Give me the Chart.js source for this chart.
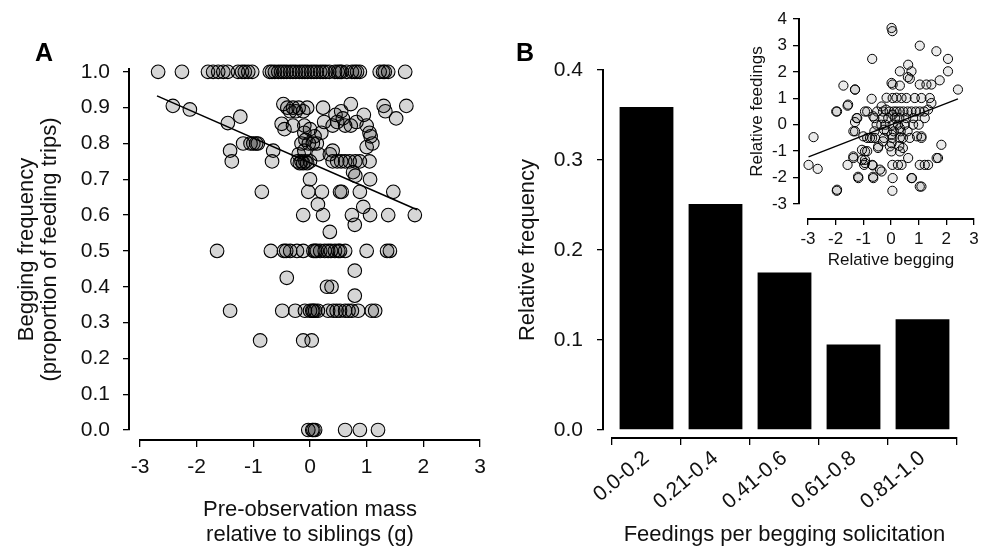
<!DOCTYPE html>
<html><head><meta charset="utf-8">
<script src="https://cdn.jsdelivr.net/npm/chart.js@4.4.1/dist/chart.umd.min.js"></script>
<style>
html,body{margin:0;padding:0;background:#fff}
body{width:994px;height:549px;position:relative;overflow:hidden}
canvas{position:absolute;top:0}
#cA{left:0}
#cB{left:500px}
#cI{left:740px}
</style></head>
<body>
<canvas id="cA" width="500" height="549"></canvas>
<canvas id="cB" width="494" height="549"></canvas>
<canvas id="cI" width="254" height="285"></canvas>
<script>
// ---------------- DATA ----------------
// Panel A: [pre-observation mass relative to siblings (g), begging frequency]
const panelAPoints = [
 [-2.68,1.0],[-2.26,1.0],[-1.80,1.0],[-1.71,1.0],[-1.62,1.0],[-1.53,1.0],[-1.45,1.0],[-1.27,1.0],[-1.20,1.0],[-1.15,1.0],
 [-1.09,1.0],[-1.02,1.0],[-0.71,1.0],[-0.67,1.0],[-0.62,1.0],[-0.56,1.0],[-0.51,1.0],[-0.46,1.0],[-0.41,1.0],[-0.35,1.0],
 [-0.30,1.0],[-0.25,1.0],[-0.19,1.0],[-0.14,1.0],[-0.09,1.0],[-0.04,1.0],[0.02,1.0],[0.07,1.0],[0.12,1.0],[0.18,1.0],
 [0.23,1.0],[0.28,1.0],[0.34,1.0],[0.44,1.0],[0.49,1.0],[0.53,1.0],[0.56,1.0],[0.65,1.0],[0.74,1.0],[0.79,1.0],
 [0.83,1.0],[0.88,1.0],[1.23,1.0],[1.29,1.0],[1.32,1.0],[1.38,1.0],[1.68,1.0],
 [-2.42,0.905],[-2.12,0.895],[-0.47,0.91],[-0.40,0.90],[-0.35,0.89],[-0.30,0.90],[-0.25,0.89],[-0.20,0.90],[-0.12,0.89],[-0.05,0.90],
 [0.23,0.90],[0.45,0.88],[0.55,0.89],[0.58,0.87],[0.72,0.91],[0.95,0.88],[1.30,0.905],[1.33,0.89],[1.70,0.905],[1.52,0.87],
 [-1.45,0.857],[-1.23,0.875],[-0.50,0.855],[-0.45,0.84],[-0.30,0.85],[-0.10,0.85],[0.00,0.84],[0.25,0.86],[0.40,0.85],[0.48,0.86],
 [0.62,0.85],[0.72,0.85],[0.82,0.86],[1.00,0.85],[1.05,0.83],
 [-1.18,0.80],[-1.05,0.80],[-1.00,0.80],[-0.95,0.80],[-0.92,0.80],[-0.15,0.80],[-0.08,0.81],[-0.02,0.80],[0.05,0.80],[0.12,0.80],
 [0.08,0.82],[-0.10,0.83],[0.20,0.83],[1.00,0.79],[1.10,0.80],[1.07,0.82],
 [-1.41,0.78],[-0.65,0.78],[-0.20,0.77],[-0.10,0.78],[0.35,0.77],[0.40,0.78],[0.15,0.77],
 [-1.38,0.75],[-0.67,0.75],[-0.22,0.75],[-0.18,0.745],[-0.15,0.75],[-0.12,0.745],[-0.08,0.75],[-0.05,0.745],[0.00,0.75],[0.40,0.75],
 [0.48,0.75],[0.55,0.75],[0.62,0.75],[0.70,0.75],[0.80,0.75],[0.88,0.75],[1.05,0.75],
 [0.00,0.70],[0.76,0.72],[0.80,0.71],[1.06,0.70],
 [-0.85,0.665],[-0.03,0.665],[0.21,0.665],[0.53,0.665],[0.56,0.665],[0.88,0.665],[1.47,0.665],
 [0.14,0.63],[0.94,0.623],
 [-0.12,0.60],[0.23,0.60],[0.74,0.60],[1.06,0.60],[1.38,0.60],[1.85,0.60],
 [0.35,0.553],[0.79,0.573],
 [-1.64,0.5],[-0.69,0.5],[-0.46,0.5],[-0.42,0.5],[-0.35,0.5],[-0.23,0.5],[-0.12,0.5],[0.06,0.5],[0.09,0.5],[0.12,0.5],
 [0.18,0.5],[0.26,0.5],[0.32,0.5],[0.37,0.5],[0.44,0.5],[0.50,0.5],[0.53,0.5],[0.62,0.5],[1.00,0.5],[1.36,0.5],[1.41,0.5],
 [-0.41,0.425],[0.79,0.445],[0.30,0.40],[0.38,0.40],[0.79,0.375],
 [-1.41,0.333],[-0.49,0.333],[-0.26,0.333],[-0.09,0.333],[0.00,0.333],[0.04,0.333],[0.06,0.333],[0.09,0.333],[0.14,0.333],[0.32,0.333],
 [0.41,0.333],[0.47,0.333],[0.53,0.333],[0.62,0.333],[0.68,0.333],[0.74,0.333],[0.85,0.333],[1.09,0.333],[1.15,0.333],
 [-0.88,0.25],[-0.12,0.25],[0.03,0.25],
 [-0.03,0.0],[0.04,0.0],[0.06,0.0],[0.09,0.0],[0.62,0.0],[0.88,0.0],[1.20,0.0]
];
const panelALine = [[-2.70,0.933],[1.89,0.615]];
const panelAXTicks = [-3,-2,-1,0,1,2,3];

// Panel B: histogram
const feedCategories = ['0.0-0.2','0.21-0.4','0.41-0.6','0.61-0.8','0.81-1.0'];
const relFrequency = [0.359,0.251,0.175,0.095,0.123];

// Inset: [relative begging, relative feedings]
const insetPoints = [
 [-2.80,-0.47],[-2.98,-1.52],[-2.65,-1.67],[-1.96,-2.50],[-1.98,0.50],[-1.72,1.48],[-1.57,0.72],[-1.30,1.33],[-1.24,0.25],[-1.36,-0.25],
 [-1.36,-1.20],[-1.57,-1.52],[-1.18,-2.02],[-0.68,2.49],[-0.70,0.98],[-0.94,0.50],[-1.00,-0.44],[-0.94,-1.01],[-0.94,-1.33],[-0.97,-1.52],
 [-0.66,-1.54],[-0.64,-2.02],[-0.34,-1.77],[-0.58,-0.50],[-0.76,-0.50],[-0.46,-0.82],[-0.52,0.00],[-0.64,0.32],[-0.25,-0.19],[-0.18,0.57],
 [-0.34,0.69],[0.02,3.66],[0.05,3.54],[0.06,1.52],[0.02,1.58],[0.06,1.01],[0.06,0.38],[0.06,0.00],[0.02,-0.38],[0.05,-0.50],
 [0.02,-1.01],[0.05,-1.52],[0.06,-2.02],[0.05,-2.50],[0.32,2.02],[0.32,1.48],[0.38,1.01],[0.32,0.50],[0.32,-0.13],[0.32,-1.01],
 [0.38,-1.52],[0.62,2.27],[0.74,2.02],[0.68,1.74],[0.56,1.01],[0.86,1.01],[0.74,0.50],[0.80,0.00],[0.68,-0.50],[0.62,-1.26],
 [0.74,-2.02],[1.04,2.99],[1.04,1.52],[1.28,1.52],[1.46,1.52],[1.10,1.01],[1.40,1.01],[1.04,0.50],[1.34,0.57],[1.22,0.25],
 [1.10,-0.44],[1.04,-1.52],[1.34,-1.52],[1.04,-2.34],[1.70,-1.26],[1.82,-0.76],[1.64,2.78],[2.06,2.49],[2.06,2.02],[1.76,1.68],
 [2.42,1.33],[1.46,0.82],[0.61,1.80],[-1.30,1.33],[-0.16,1.02],[0.20,1.02],[-1.55,0.76],[-1.95,0.50],[-0.86,0.50],[-0.50,0.50],
 [-0.29,0.50],[-1.22,0.25],[-1.30,-0.25],[-1.30,0.10],[-0.86,-0.50],[-0.68,-0.50],[0.43,-0.50],[0.94,-0.44],[-1.05,-0.95],[-0.86,-1.00],
 [-0.47,-0.88],[-0.29,-0.63],[-0.04,-0.82],[0.43,-0.88],[-1.36,-1.26],[-1.05,-1.33],[-0.94,-1.45],[-0.68,-1.52],[0.25,-1.52],[1.22,-1.52],
 [1.65,-1.26],[-1.19,-1.97],[-0.65,-1.97],[-0.40,-1.70],[0.76,-2.02],[1.10,-2.34],[-1.95,-2.46],
 [-0.05,0.50],[0.10,0.50],[0.20,0.50],[0.45,0.50],[0.60,0.50],[0.90,0.50],[1.20,0.50],
 [-0.60,0.25],[-0.30,0.25],[-0.10,0.25],[0.15,0.25],[0.30,0.25],[0.55,0.25],[0.80,0.25],
 [-0.35,0.00],[-0.20,0.00],[0.25,0.00],[0.50,0.00],[1.00,0.00],
 [-0.60,-0.25],[-0.15,-0.25],[0.10,-0.25],[0.35,-0.25],[0.60,-0.25],
 [-0.25,-0.50],[0.32,-0.50],[1.10,-0.50],[0.30,-0.80],[0.02,-0.70]
];
const insetLine = [[-2.98,-1.22],[2.42,0.98]];

// ---------------- HELPERS ----------------
Chart.defaults.font.family = "'Liberation Sans', Arial, Helvetica, sans-serif";
Chart.defaults.color = '#111';
Chart.defaults.animation = false;

// moves the axis lines away from the plot corner (detached axes style)
const detachAxes = {
  id: 'detachAxes',
  afterLayout(chart, args, opts) {
    const sx = chart.scales.x, sy = chart.scales.y;
    if (opts.dx) sy.right -= opts.dx;
    if (opts.dy) sx.top += opts.dy;
  }
};
const panelLetter = {
  id: 'panelLetter',
  afterDraw(chart, args, opts) {
    if (!opts.text) return;
    const ctx = chart.ctx;
    ctx.save();
    ctx.font = 'bold 25px ' + Chart.defaults.font.family;
    ctx.fillStyle = '#000';
    ctx.textAlign = 'center';
    ctx.textBaseline = 'middle';
    ctx.fillText(opts.text, opts.x, opts.y);
    ctx.restore();
  }
};
Chart.register(detachAxes, panelLetter);

function axisStyle(tickLen) {
  return {
    grid: {display: true, drawOnChartArea: false, drawTicks: true, tickLength: tickLen, color: '#000', lineWidth: 1.3},
    border: {display: true, color: '#000', width: 2}
  };
}
const toXY = arr => arr.map(p => ({x: p[0], y: p[1]}));

// ---------------- PANEL A ----------------
new Chart(document.getElementById('cA'), {
  type: 'scatter',
  data: {datasets: [
    {type: 'line', data: toXY(panelALine), borderColor: '#000', borderWidth: 1.6, pointRadius: 0, fill: false, order: 0, clip: false},
    {data: toXY(panelAPoints), backgroundColor: 'rgba(0,0,0,0.16)', borderColor: '#000', borderWidth: 1.1, pointRadius: 6.8, order: 1, clip: false}
  ]},
  options: {
    responsive: false,
    layout: {padding: {top: 69, right: 20, left: 0, bottom: 0}},
    plugins: {legend: {display: false}, tooltip: {enabled: false},
      detachAxes: {dx: 11, dy: 10}, panelLetter: {text: 'A', x: 44, y: 54}},
    scales: {
      x: {type: 'linear', min: -3, max: 3, ...axisStyle(7),
        afterFit: s => { s.height = 119; },
        afterBuildTicks: s => { s.ticks = panelAXTicks.map(v => ({value: v})); },
        ticks: {font: {size: 21}, padding: 8, color: '#111', callback: v => String(v)},
        title: {display: true, text: ['Pre-observation mass', 'relative to siblings (g)'], font: {size: 22, lineHeight: 1.136}, color: '#111', padding: {top: 0, bottom: 1.5}}
      },
      y: {type: 'linear', min: 0, max: 1.008, ...axisStyle(6),
        afterFit: s => { s.width = 140; },
        ticks: {stepSize: 0.1, includeBounds: false, font: {size: 21}, padding: 13, color: '#111', callback: v => Number(v).toFixed(1)},
        title: {display: true, text: ['Begging frequency', '(proportion of feeding trips)'], font: {size: 22, lineHeight: 1.06}, color: '#111', padding: {top: 15, bottom: 0}}
      }
    }
  }
});

// ---------------- PANEL B ----------------
new Chart(document.getElementById('cB'), {
  type: 'bar',
  data: {labels: feedCategories, datasets: [
    {data: relFrequency, backgroundColor: '#000', borderWidth: 0, barPercentage: 0.78, categoryPercentage: 1.0}
  ]},
  options: {
    responsive: false,
    layout: {padding: {top: 70, right: 37, left: 0, bottom: 0}},
    plugins: {legend: {display: false}, tooltip: {enabled: false},
      detachAxes: {dx: 9, dy: 8}, panelLetter: {text: 'B', x: 25, y: 54}},
    scales: {
      x: {type: 'category', offset: true, ...axisStyle(7),
        grid: {display: true, offset: true, drawOnChartArea: false, drawTicks: true, tickLength: 7, color: '#000', lineWidth: 1.3},
        afterFit: s => { s.height = 119; },
        ticks: {font: {size: 21}, padding: 1, color: '#111', minRotation: 40, maxRotation: 40, autoSkip: false},
        title: {display: true, text: 'Feedings per begging solicitation', font: {size: 22, lineHeight: 1.2}, color: '#111', padding: {top: 0, bottom: 1}}
      },
      y: {type: 'linear', min: 0, max: 0.4, ...axisStyle(6),
        afterFit: s => { s.width = 112; },
        ticks: {stepSize: 0.1, font: {size: 21}, padding: 14, color: '#111', callback: v => Number(v).toFixed(1)},
        title: {display: true, text: 'Relative frequency', font: {size: 22, lineHeight: 1.2}, color: '#111', padding: {top: 15, bottom: 0}}
      }
    }
  }
});

// ---------------- INSET ----------------
new Chart(document.getElementById('cI'), {
  type: 'scatter',
  data: {datasets: [
    {type: 'line', data: toXY(insetLine), borderColor: '#000', borderWidth: 1.3, pointRadius: 0, fill: false, order: 0, clip: false},
    {data: toXY(insetPoints), backgroundColor: 'rgba(0,0,0,0.08)', borderColor: '#000', borderWidth: 1, pointRadius: 4.6, order: 1, clip: false}
  ]},
  options: {
    responsive: false,
    layout: {padding: {top: 19, right: 20, left: 0, bottom: 0}},
    plugins: {legend: {display: false}, tooltip: {enabled: false}, detachAxes: {dx: 9, dy: 15}},
    scales: {
      x: {type: 'linear', min: -3, max: 3, ...axisStyle(6),
        afterFit: s => { s.height = 81; },
        ticks: {stepSize: 1, font: {size: 17}, padding: 3.8, color: '#111'},
        title: {display: true, text: 'Relative begging', font: {size: 17, lineHeight: 1.2}, color: '#111', padding: {top: 0, bottom: 14}}
      },
      y: {type: 'linear', min: -3, max: 4, ...axisStyle(6),
        afterFit: s => { s.width = 68; },
        ticks: {stepSize: 1, font: {size: 17}, padding: 6, color: '#111'},
        title: {display: true, text: 'Relative feedings', font: {size: 17, lineHeight: 1.2}, color: '#111', padding: {top: 7, bottom: 0}}
      }
    }
  }
});
</script>
</body></html>
